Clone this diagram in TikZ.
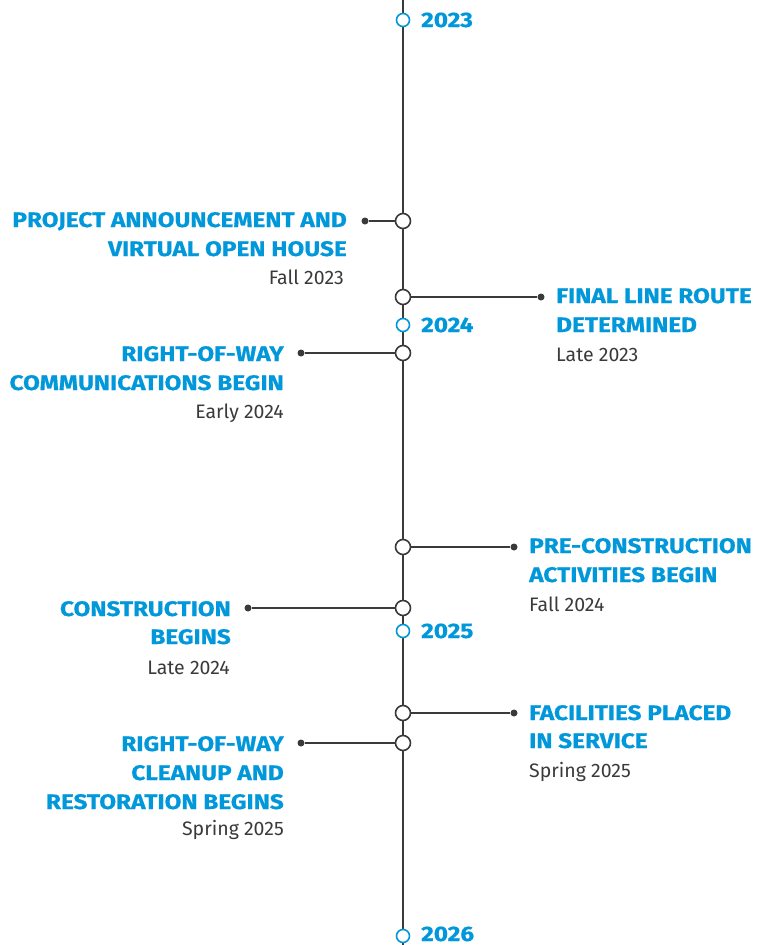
\documentclass[tikz,border=0pt]{standalone}
\usepackage{fontspec}
\setmainfont{Fira Sans}
\newfontfamily\ttlfont[FakeStretch=1.16,FakeBold=0.6]{Fira Sans}
\definecolor{tlblue}{RGB}{0,152,218}
\definecolor{tlgray}{RGB}{58,58,58}
\begin{document}
\begin{tikzpicture}[x=1pt,y=-1pt,
  axis/.style={draw=tlgray,line width=1.8pt},
  conn/.style={draw=tlgray,line width=1.6pt},
  yearmark/.style={circle,draw=tlblue,fill=white,line width=1.6pt,minimum size=13pt,inner sep=0pt},
  eventmark/.style={circle,draw=tlgray,fill=white,line width=1.6pt,minimum size=15pt,inner sep=0pt},
  enddot/.style={circle,fill=tlgray,minimum size=7pt,inner sep=0pt},
  yearlbl/.style={text=tlblue,font=\ttlfont\fontsize{21}{21}\selectfont\bfseries,inner sep=0pt,anchor=base west},
  ttlR/.style={text=tlblue,font=\ttlfont\fontsize{21}{21}\selectfont\bfseries,inner sep=0pt,anchor=base east},
  ttlL/.style={text=tlblue,font=\ttlfont\fontsize{21}{21}\selectfont\bfseries,inner sep=0pt,anchor=base west},
  dateR/.style={text=tlgray,font=\fontsize{19.5}{19.5}\selectfont,inner sep=0pt,anchor=base east},
  dateL/.style={text=tlgray,font=\fontsize{19.5}{19.5}\selectfont,inner sep=0pt,anchor=base west}]
\useasboundingbox[fill=white] (0,0) rectangle (764,945);
\coordinate (top) at (403,0);
\coordinate (bot) at (403,945);
\draw[axis] (top) -- (bot);
% years
\node[yearmark] (y23) at (403,20) {};
\node[yearmark] (y24) at (403,325) {};
\node[yearmark] (y25) at (403,631) {};
\node[yearmark] (y26) at (403,936) {};
\node[yearlbl] (l23) at (421,27) {2023};
\node[yearlbl] (l24) at (421,332) {2024};
\node[yearlbl] (l25) at (421,638) {2025};
\node[yearlbl] (l26) at (421,941) {2026};
% events
\node[eventmark] (e1) at (403,221) {};
\node[enddot] (d1) at (365,221) {};
\draw[conn] (e1) -- (d1);
\node[ttlR] (t1a) at (347,227) {PROJECT ANNOUNCEMENT AND};
\node[ttlR] (t1b) at (347,256) {VIRTUAL OPEN HOUSE};
\node[dateR] (t1c) at (344,284) {Fall 2023};

\node[eventmark] (e2) at (403,297) {};
\node[enddot] (d2) at (541,297) {};
\draw[conn] (e2) -- (d2);
\node[ttlL] (t2a) at (556,303) {FINAL LINE ROUTE};
\node[ttlL] (t2b) at (556,332) {DETERMINED};
\node[dateL] (t2c) at (556,361) {Late 2023};

\node[eventmark] (e3) at (403,353) {};
\node[enddot] (d3) at (301,353) {};
\draw[conn] (e3) -- (d3);
\node[ttlR] (t3a) at (284,361) {RIGHT-OF-WAY};
\node[ttlR] (t3b) at (284,390) {COMMUNICATIONS BEGIN};
\node[dateR] (t3c) at (284,418) {Early 2024};

\node[eventmark] (e4) at (403,547) {};
\node[enddot] (d4) at (514,547) {};
\draw[conn] (e4) -- (d4);
\node[ttlL] (t4a) at (529,553) {PRE-CONSTRUCTION};
\node[ttlL] (t4b) at (529,582) {ACTIVITIES BEGIN};
\node[dateL] (t4c) at (529,611) {Fall 2024};

\node[eventmark] (e5) at (403,608) {};
\node[enddot] (d5) at (248,608) {};
\draw[conn] (e5) -- (d5);
\node[ttlR] (t5a) at (231,616) {CONSTRUCTION};
\node[ttlR] (t5b) at (231,644) {BEGINS};
\node[dateR] (t5c) at (230,674) {Late 2024};

\node[eventmark] (e6) at (403,713) {};
\node[enddot] (d6) at (514,713) {};
\draw[conn] (e6) -- (d6);
\node[ttlL] (t6a) at (529,720) {FACILITIES PLACED};
\node[ttlL] (t6b) at (529,748) {IN SERVICE};
\node[dateL] (t6c) at (529,777) {Spring 2025};

\node[eventmark] (e7) at (403,743) {};
\node[enddot] (d7) at (301,743) {};
\draw[conn] (e7) -- (d7);
\node[ttlR] (t7a) at (284,751) {RIGHT-OF-WAY};
\node[ttlR] (t7b) at (284,780) {CLEANUP AND};
\node[ttlR] (t7c) at (284,809) {RESTORATION BEGINS};
\node[dateR] (t7d) at (284,835) {Spring 2025};
\end{tikzpicture}
\end{document}
